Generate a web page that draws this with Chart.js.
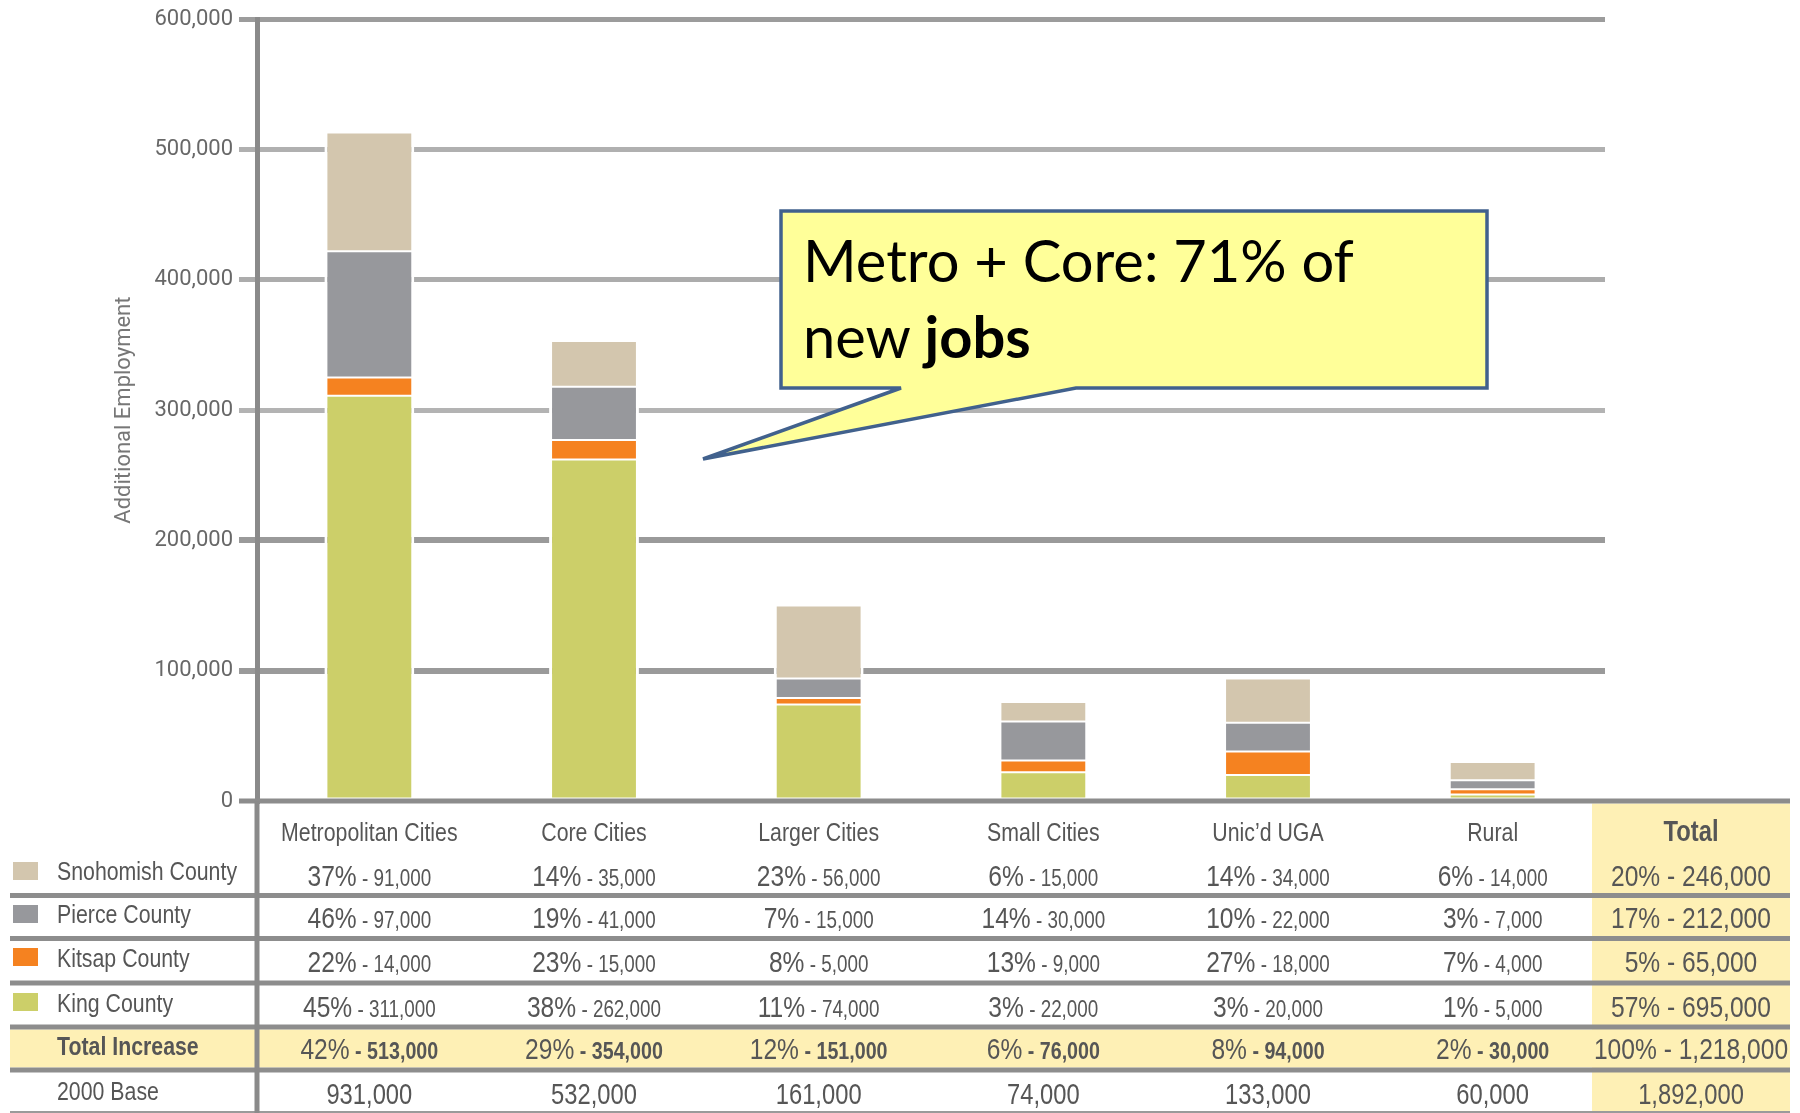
<!DOCTYPE html>
<html><head><meta charset="utf-8">
<script src="https://cdn.jsdelivr.net/npm/chart.js@4.4.1/dist/chart.umd.min.js"></script>
<style>
html,body{margin:0;padding:0;background:#fff;}
#wrap{position:relative;width:1800px;height:1113px;overflow:hidden;background:#fff;}
#c{position:absolute;left:0;top:0;}
#ov{position:absolute;left:0;top:0;}
</style></head><body>
<div id="wrap"><canvas id="c" width="1800" height="1113"></canvas><svg id="ov" width="1800" height="1113" xmlns="http://www.w3.org/2000/svg"></svg></div>
<script>
// ---------- data ----------
const categories = ['Metropolitan Cities','Core Cities','Larger Cities','Small Cities','Unic\u2019d UGA','Rural'];
const countyNames = ['Snohomish County','Pierce County','Kitsap County','King County'];
const king      = [311000,262000,74000,22000,20000,5000];
const kitsap    = [14000,15000,5000,9000,18000,4000];
const pierce    = [97000,41000,15000,30000,22000,7000];
const snohomish = [91000,35000,56000,15000,34000,14000];
const snohomishPct = [37,14,23,6,14,6];
const piercePct    = [46,19,7,14,10,3];
const kitsapPct    = [22,23,8,13,27,7];
const kingPct      = [45,38,11,3,3,1];
const totalIncrease    = [513000,354000,151000,76000,94000,30000];
const totalIncreasePct = [42,29,12,6,8,2];
const base2000 = [931000,532000,161000,74000,133000,60000];
const countyTotals   = [246000,212000,65000,695000]; // Snohomish, Pierce, Kitsap, King
const countyTotalPct = [20,17,5,57];
const grandTotal = 1218000, grandTotalPct = 100, baseTotal = 1892000;
const yTickValues = [0,100000,200000,300000,400000,500000,600000];
const yTickLabels = ['0','100,000','200,000','300,000','400,000','500,000','600,000'];
const calloutLine1 = 'Metro + Core: 71% of';
const calloutLine2a = 'new ', calloutLine2b = 'jobs';

// ---------- styles ----------
const COL = {snohomish:'#d3c6ae', pierce:'#97989c', kitsap:'#f58220', king:'#cccf69'};
const gridColors = ['rgba(0,0,0,0)','#9a9a9a','#9a9a9a','#b3b3b3','#acacac','#b0b0b0','#9c9c9c'];
const gridWidths = [5,6,6,5,5,5,5];

function hasFont(name){
  const c=document.createElement('canvas').getContext('2d');
  const s='abcdefghijklmnopqrstuvwxyz0123456789ABCDEFG';
  c.font='40px monospace'; const a=c.measureText(s).width;
  c.font='40px "'+name+'", monospace'; const b=c.measureText(s).width;
  return Math.abs(a-b)>0.5;
}
const narrowOK = hasFont('Liberation Sans Narrow');
const NARROW = narrowOK ? '"Liberation Sans Narrow", "Liberation Sans", sans-serif' : '"Liberation Sans", sans-serif';
const SX = narrowOK ? 1 : 0.82;
const TICKFONT = narrowOK ? '"Liberation Sans Narrow", sans-serif' : 'Roboto, sans-serif';

const ds = (label,data,color)=>({label,data,backgroundColor:color,borderColor:'#ffffff',
  borderWidth:{top:1,bottom:1,left:3,right:3},borderSkipped:false,barPercentage:0.4,categoryPercentage:1.0});

const chart = new Chart(document.getElementById('c').getContext('2d'), {
  type:'bar',
  data:{labels:categories, datasets:[
    ds('King County',king,COL.king),
    ds('Kitsap County',kitsap,COL.kitsap),
    ds('Pierce County',pierce,COL.pierce),
    ds('Snohomish County',snohomish,COL.snohomish)
  ]},
  options:{
    responsive:false, animation:false, devicePixelRatio:1,
    layout:{padding:{left:0,top:19,right:195,bottom:312}},
    plugins:{legend:{display:false},tooltip:{enabled:false}},
    scales:{
      x:{stacked:true, display:false},
      y:{stacked:true, min:0, max:600000,
        afterBuildTicks:s=>{ s.ticks = yTickValues.map(v=>({value:v})); },
        afterFit:s=>{ s.width = 257; },
        ticks:{callback:(v,i)=>yTickLabels[i], color:'#686868', padding:6,
               font:{family:TICKFONT, size:narrowOK?25:22}},
        grid:{color:c=>gridColors[c.index]||'#aaa', lineWidth:c=>gridWidths[c.index]||5, tickLength:18, drawTicks:true},
        border:{display:true, color:'#8a8a8a', width:5},
        title:{display:true, text:'Additional Employment', color:'#777777',
               font:{family:TICKFONT, size:narrowOK?25:22}, padding:{top:111,bottom:0}}
      }
    }
  }
});

// ---------- table + callout overlay ----------
const ov = document.getElementById('ov');
const NS = 'http://www.w3.org/2000/svg';
function el(tag, attrs, parent){
  const e=document.createElementNS(NS,tag);
  for(const k in attrs) e.setAttribute(k,attrs[k]);
  (parent||ov).appendChild(e); return e;
}
const fmt = n => n.toLocaleString('en-US');
const xs = chart.scales.x, ys = chart.scales.y;
const colX = categories.map((_,i)=>xs.getPixelForValue(i));
const zeroY = ys.getPixelForValue(0);
const T = {left:10, right:1790, totalLeft:1592, bottom:1113};
const totalX = (T.totalLeft + T.right)/2;
const sepY = [895.5, 938.5, 983, 1027, 1070];
const headBase = 841;
const cellBase = [886, 928, 972, 1017, 1059, 1104];
const labelBase = [880, 923, 967, 1012, 1055, 1100];
const swatchY = [862, 905, 948, 993];
const TXT = '#565656';

function text(x, y, anchor, parts, opts){
  const t = el('text',{x:x,y:y,'text-anchor':anchor,'font-family':NARROW,fill:TXT});
  if (SX!==1) t.setAttribute('transform',`translate(${x} ${y}) scale(${SX} 1) translate(${-x} ${-y})`);
  parts.forEach(p=>{
    const s = el('tspan',{'font-size':p.size,'font-weight':p.bold?'bold':'normal'},t);
    s.textContent = p.t;
  });
  return t;
}

// backgrounds
el('rect',{x:T.left,y:sepY[3]+2.5,width:T.right-T.left,height:sepY[4]-sepY[3]-5,fill:'#fef0b5'});
el('rect',{x:T.totalLeft,y:zeroY+2.5,width:T.right-T.totalLeft,height:T.bottom-zeroY-2.5,fill:'#fef0b5'});
// lines
el('rect',{x:239,y:zeroY-2.5,width:T.right-239,height:5,fill:'#8c8c8c'});
sepY.forEach(y=>el('rect',{x:T.left,y:y-2.5,width:T.right-T.left,height:5,fill:'#8d8d8d'}));
el('rect',{x:T.left,y:T.bottom-2,width:T.right-T.left,height:2,fill:'#9a9a9a'});
el('rect',{x:254.5,y:zeroY,width:5,height:T.bottom-zeroY,fill:'#8a8a8a'});
// legend swatches + row labels
const swCols = [COL.snohomish, COL.pierce, COL.kitsap, COL.king];
swCols.forEach((c,i)=>el('rect',{x:13,y:swatchY[i],width:25,height:18,fill:c}));
countyNames.forEach((n,i)=>text(57,labelBase[i],'start',[{t:n,size:26}]));
text(57,labelBase[4],'start',[{t:'Total Increase',size:26,bold:true}]);
text(57,labelBase[5],'start',[{t:'2000 Base',size:26}]);
// header
categories.forEach((c,i)=>text(colX[i],headBase,'middle',[{t:c,size:26}]));
text(totalX,headBase,'middle',[{t:'Total',size:29,bold:true}]);
// county rows
const pctRows = [snohomishPct,piercePct,kitsapPct,kingPct];
const valRows = [snohomish,pierce,kitsap,king];
pctRows.forEach((pr,r)=>{
  pr.forEach((p,i)=>text(colX[i],cellBase[r],'middle',[{t:p+'%',size:30},{t:' - '+fmt(valRows[r][i]),size:23}]));
  text(totalX,cellBase[r],'middle',[{t:countyTotalPct[r]+'% - '+fmt(countyTotals[r]),size:30}]);
});
// total increase
totalIncreasePct.forEach((p,i)=>text(colX[i],cellBase[4],'middle',[{t:p+'%',size:30},{t:' - '+fmt(totalIncrease[i]),size:24,bold:true}]));
text(totalX,cellBase[4],'middle',[{t:grandTotalPct+'% - '+fmt(grandTotal),size:30}]);
// base
base2000.forEach((b,i)=>text(colX[i],cellBase[5],'middle',[{t:fmt(b),size:29}]));
text(totalX,cellBase[5],'middle',[{t:fmt(baseTotal),size:29}]);

// callout
const box = {l:781,t:211,r:1487,b:388}, p1=901, p2=1076, tip={x:703,y:459};
el('path',{d:`M${box.l},${box.t} H${box.r} V${box.b} H${p2} L${tip.x},${tip.y} L${p1},${box.b} H${box.l} Z`,
  fill:'#ffff99',stroke:'#41618d','stroke-width':3.5,'stroke-linejoin':'miter'});
const mc = document.createElement('canvas').getContext('2d');
mc.font = '50px Lato';
const calloutSize = 50 * 551 / mc.measureText(calloutLine1).width;
const t1 = el('text',{x:803,y:282,'font-family':'Lato, Carlito, sans-serif','font-size':calloutSize,fill:'#000'});
t1.textContent = calloutLine1;
const t2 = el('text',{x:803,y:358,'font-family':'Lato, Carlito, sans-serif','font-size':calloutSize,fill:'#000'});
el('tspan',{},t2).textContent = calloutLine2a;
el('tspan',{'font-weight':'bold'},t2).textContent = calloutLine2b;
</script>
</body></html>
